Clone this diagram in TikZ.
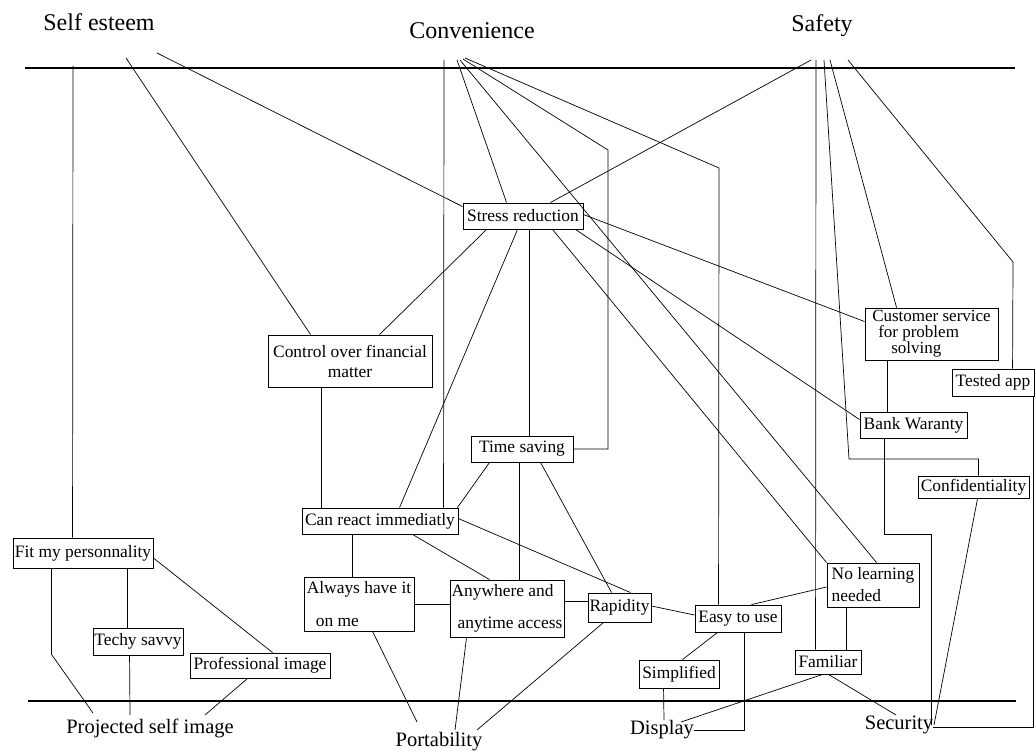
\documentclass[tikz,border=0pt]{standalone}
\usepackage{fontspec}
\setmainfont{Liberation Serif}
\usetikzlibrary{calc}
\begin{document}
\begin{tikzpicture}[x=1pt,y=-1pt,
  box/.style={draw, line width=0.9pt, inner sep=0pt, font=\fontsize{17.4}{20}\selectfont},
  heading/.style={inner sep=0pt, font=\fontsize{24}{28}\selectfont},
  aspect/.style={inner sep=0pt, font=\fontsize{20.5}{24}\selectfont},
  link/.style={line width=0.7pt},
  rule/.style={line width=2pt}]

\useasboundingbox (0,0) rectangle (1036,752);
\fill[white] (0,0) rectangle (1036,752);

% value headings and aspect labels
\node[heading] (se) at (99,22) {Self esteem};
\node[heading] (cv) at (472,31) {Convenience};
\node[heading] (sf) at (822,26) {Safety};
\node[aspect] (psi) at (150,728) {Projected self image};
\node[aspect] (po) at (439,742) {Portability};
\node[aspect] (di) at (662,730) {Display};
\node[aspect] (sec) at (899,725) {Security};

% horizontal level rules
\draw[rule] (25,68) -- (1015,68);
\draw[rule] (28,701) -- (1016,701);

% consequence boxes
\node[box, minimum width=120pt, minimum height=26pt] (sr) at (523,216) {Stress reduction};
\node[box, minimum width=164pt, minimum height=52pt, align=center] (cf) at (350,361) {Control over financial\\matter};
\node[box, minimum width=102pt, minimum height=26pt] (ts) at (522,449) {Time saving};
\node[box, minimum width=156pt, minimum height=26pt] (cr) at (380,521) {Can react immediatly};
\node[box, minimum width=110pt, minimum height=54pt, align=left, font=\fontsize{17.4}{33}\selectfont] (ah) at (359,604) {Always have it\\\hspace*{9pt}on me};
\node[box, minimum width=114pt, minimum height=57pt, align=left, font=\fontsize{17.4}{32}\selectfont] (aa) at (507,608.5) {Anywhere and\\\hspace*{6pt}anytime access};
\node[box, minimum width=63pt, minimum height=29pt] (ra) at (619.5,607.5) {Rapidity};
\node[box, minimum width=86pt, minimum height=27pt] (eu) at (738,618.5) {Easy to use};
\node[box, minimum width=92pt, minimum height=44pt, align=left, font=\fontsize{17.4}{22}\selectfont] (nl) at (873,585) {No learning\\needed};
\node[box, minimum width=107pt, minimum height=26pt] (bw) at (913.5,425) {Bank Waranty};
\node[box, minimum width=133pt, minimum height=52pt, align=left, font=\fontsize{17}{16}\selectfont] (cs) at (931.5,334) {Customer service\\\hspace*{6pt}for problem\\\hspace*{19pt}solving};
\node[box, minimum width=82pt, minimum height=27pt] (ta) at (993,382.5) {Tested app};
\node[box, minimum width=111pt, minimum height=22pt] (co) at (973.5,487) {Confidentiality};
\node[box, minimum width=66pt, minimum height=24pt] (fa) at (828,662) {Familiar};
\node[box, minimum width=80pt, minimum height=28pt] (si) at (679,674) {Simplified};
\node[box, minimum width=140pt, minimum height=30pt] (fp) at (83,553) {Fit my personnality};
\node[box, minimum width=90pt, minimum height=27pt] (tsv) at (138,641.5) {Techy savvy};
\node[box, minimum width=140pt, minimum height=25pt] (pi) at (260,665.5) {Professional image};

% links from Self esteem
\draw[link] ([xshift=-26pt,yshift=-44pt]se.center) -- ([xshift=60pt]fp.north west);
\draw[link] ([xshift=27pt,yshift=-36pt]se.center) -- ([xshift=43pt]cf.north west);
\draw[link] ([xshift=58pt,yshift=-31pt]se.center) -- ([yshift=-4pt]sr.north west);

% links from Convenience
\draw[link] ([xshift=-28pt,yshift=-29pt]cv.center) -- ([xshift=142pt]cr.north west);
\draw[link] ([xshift=-15pt,yshift=-29pt]cv.center) -- ([xshift=44pt]sr.north west);
\draw[link] ([xshift=-12pt,yshift=-29pt]cv.center) -- ([xshift=50pt]nl.north west);
\draw[link] ([xshift=-9pt,yshift=-28pt]cv.center) -- (608,150) |- (ts.east);
\draw[link] ([xshift=-7pt,yshift=-27pt]cv.center) -- (719,168) -- ([xshift=24pt]eu.north west);

% links from Safety
\draw[link] ([xshift=-11pt,yshift=-34pt]sf.center) -- ([xshift=-33pt]sr.north east);
\draw[link] ([xshift=-6pt,yshift=-34pt]sf.center) -- ([xshift=21pt]fa.north west);
\draw[link] ([xshift=2pt,yshift=-34pt]sf.center) -- (849,459) -| ([xshift=61pt]co.north west);
\draw[link] ([xshift=8pt,yshift=-34pt]sf.center) -- ([xshift=32pt]cs.north west);
\draw[link] ([xshift=26pt,yshift=-34pt]sf.center) -- (1013,262) -- ([xshift=61pt]ta.north west);

% links from Stress reduction
\draw[link] ([xshift=24pt]sr.south west) -- ([xshift=112pt]cf.north west);
\draw[link] ([xshift=55pt]sr.south west) -- ([xshift=98pt]cr.north west);
\draw[link] ([xshift=67pt]sr.south west) -- ([xshift=59pt]ts.north west);
\draw[link] ([xshift=90pt]sr.south west) -- (nl.north west);
\draw[link] ([xshift=-8pt]sr.south east) -- ([yshift=-8pt]bw.north west);
\draw[link] ([yshift=-12pt]sr.north east) -- ([yshift=-14pt]cs.north west);

% middle chains
\draw[link] ([xshift=54pt]cf.south west) -- ([xshift=20pt]cr.north west);
\draw[link] ([xshift=-1pt]cr.north east) -- ([xshift=19pt]ts.south west);
\draw[link] ([yshift=-11pt]cr.north east) -- ([xshift=-21pt]ra.north east);
\draw[link] ([xshift=111pt]cr.south west) -- ([xshift=40pt]aa.north west);
\draw[link] ([xshift=51pt]cr.south west) -- ([xshift=49pt]ah.north west);
\draw[link] ([xshift=49pt]ts.south west) -- ([xshift=70pt]aa.north west);
\draw[link] ([xshift=70pt]ts.south west) -- ([xshift=24pt]ra.north west);
\draw[link] (ah.east) -- (ah.east -| aa.west);
\draw[link] ([yshift=7.5pt]aa.east) -- ([yshift=6.5pt]ra.west);
\draw[link] ([yshift=1.5pt]ra.east) -- ([yshift=3.5pt]eu.west);
\draw[link] ([yshift=-2pt]nl.west) -- ([xshift=57pt]eu.north west);
\draw[link] ([xshift=20pt]nl.south west) -- ([xshift=52pt]fa.north west);
\draw[link] ([xshift=23pt]eu.south west) -- ([xshift=44pt]si.north west);
\draw[link] ([xshift=23pt]cs.south west) -- ([xshift=28pt]bw.north west);

% links down to the aspects
\draw[link] ([xshift=50pt]eu.south west) |- (di.east);
\draw[link] ([xshift=25pt]si.south west) -- ([xshift=2pt,yshift=10pt]di.center);
\draw[link] ([xshift=28pt]fa.south west) -- ([xshift=19pt,yshift=8pt]di.center);
\draw[link] ([xshift=34pt]fa.south west) -- ([xshift=-3pt,yshift=10pt]sec.center);
\draw[link] ([xshift=16pt]ra.south west) -- ([xshift=38pt,yshift=12pt]po.center);
\draw[link] ([xshift=17pt]aa.south west) -- ([xshift=16pt,yshift=12pt]po.center);
\draw[link] ([xshift=69pt]ah.south west) -- ([xshift=-22pt,yshift=20pt]po.center);
\draw[link] ([xshift=39pt]fp.south west) -- ++(0,86) -- ([xshift=-57pt,yshift=15pt]psi.center);
\draw[link] ([xshift=115pt]fp.south west) -- ([xshift=35pt]tsv.north west);
\draw[link] ([xshift=37pt]tsv.south west) -- ([xshift=-20pt,yshift=13pt]psi.center);
\draw[link] ([yshift=-5pt]fp.east) -- ([xshift=83pt]pi.north west);
\draw[link] ([xshift=58pt]pi.south west) -- ([xshift=55pt,yshift=13pt]psi.center);
\draw[link] ([xshift=25pt]bw.south west) -- ++(0,96) -| ([xshift=32pt]sec.center);
\draw[link] ([xshift=60pt]co.south west) -- ([xshift=35pt]sec.center);
\draw[link] ([xshift=-1pt]ta.south east) |- ([xshift=34pt,yshift=-2pt]sec.center);

\end{tikzpicture}
\end{document}
